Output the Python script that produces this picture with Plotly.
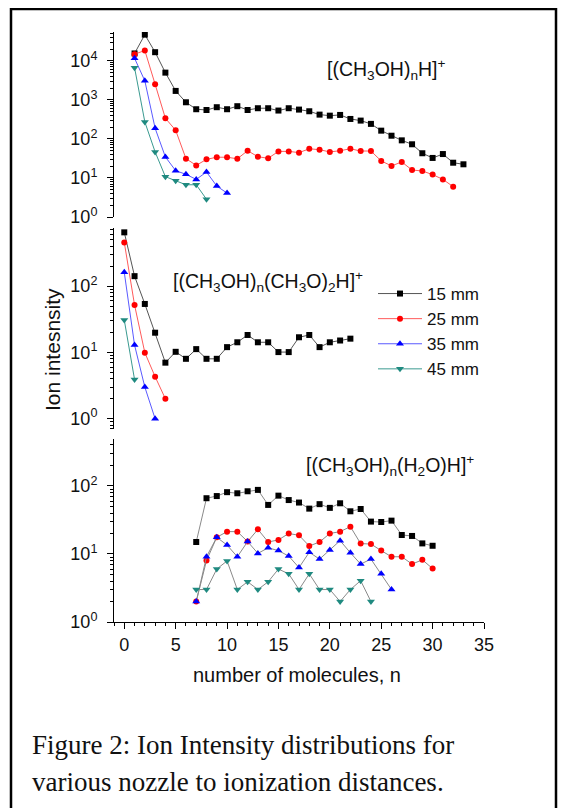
import plotly.graph_objects as go
from plotly.subplots import make_subplots

# ---------------- data ----------------
series_names = ["15 mm", "25 mm", "35 mm", "45 mm"]

# panel 1: [(CH3OH)nH]+
top_n_15 = list(range(1, 34))
top_15 = [15500, 47000, 16700, 5000, 1700, 870, 577, 551, 650, 577, 690, 551, 612, 612,
          534, 612, 565, 512, 420, 395, 412, 325, 295, 243, 163, 121, 92, 73, 43, 32.6,
          41, 24.6, 22.4]
top_n_25 = list(range(1, 33))
top_25 = [14800, 18500, 2520, 339, 167, 31.3, 21, 30, 34, 34, 31, 50, 35, 32, 48, 48,
          44.6, 56, 53, 46.5, 50, 56, 49, 49, 27.3, 20.4, 25.7, 16, 15.1, 12.2, 9.2, 6]
top_n_35 = list(range(1, 11))
top_35 = [11700, 3080, 188, 34.6, 15.4, 12.4, 9.2, 14.2, 6.2, 4.1]
top_n_45 = list(range(1, 9))
top_45 = [6700, 273, 46.5, 10.8, 8.5, 6.7, 6.7, 2.85]

# panel 2: [(CH3OH)n(CH3O)2H]+
mid_n_15 = list(range(0, 23))
mid_15 = [645, 141, 53.7, 19.8, 7.0, 10.2, 8.0, 11.2, 8.0, 8.0, 12.0, 14.2, 18.3, 14.2,
          14.2, 10.1, 10.1, 16.9, 18.3, 12.0, 14.2, 15.1, 16.1]
mid_n_25 = list(range(0, 5))
mid_25 = [455, 51.8, 9.9, 4.3, 2.0]
mid_n_35 = list(range(0, 4))
mid_35 = [161, 12.9, 3.0, 1.0]
mid_n_45 = list(range(0, 2))
mid_45 = [30.8, 3.9]

# panel 3: [(CH3OH)n(H2O)H]+
bot_n_15 = list(range(7, 31))
bot_15 = [15, 66, 71, 81, 78, 83.5, 87.5, 52.6, 72, 62, 57, 46.4, 54, 47.6, 55.6, 42.4,
          45.8, 29.9, 29.5, 30.9, 19.0, 18.4, 14.3, 13.2]
bot_n_25 = list(range(7, 31))
bot_25 = [2, 8, 17.6, 21.3, 21.3, 15.2, 23, 15, 16.1, 20, 18.8, 13.1, 15, 20, 21.3, 25.2,
          14.2, 14.0, 11.2, 9.1, 9.1, 7.1, 8.2, 6.1]
bot_n_35 = list(range(7, 27))
bot_35 = [2, 9.1, 17.6, 13.5, 9.1, 15.2, 10.2, 12.3, 11.2, 9.3, 6.3, 10.6, 8.4, 11.4,
          15.7, 10.4, 7.1, 8.4, 5.1, 3.0]
bot_n_45 = list(range(7, 25))
bot_45 = [3, 3, 6, 7.9, 3, 3.9, 3, 3.9, 6, 5.1, 3.0, 5.1, 3.0, 3.0, 2.0, 3.0, 4.05, 2.0]

x_ticks = [0, 5, 10, 15, 20, 25, 30, 35]
panel_labels = ["[(CH<sub>3</sub>OH)<sub>n</sub>H]<sup>+</sup>",
                "[(CH<sub>3</sub>OH)<sub>n</sub>(CH<sub>3</sub>O)<sub>2</sub>H]<sup>+</sup>",
                "[(CH<sub>3</sub>OH)<sub>n</sub>(H<sub>2</sub>O)H]<sup>+</sup>"]
caption_lines = ["Figure 2: Ion Intensity distributions for",
                 "various nozzle to ionization distances."]

# ---------------- styling ----------------
marker_colors = ["#000000", "#ff0000", "#0000ff", "#1f8a80"]
line_colors = ["#555555", "#ff5a5a", "#5a5aff", "#3a9a90"]
symbols = ["square", "circle", "triangle-up", "triangle-down"]
msizes = [6, 6, 7, 7]
FONT = "Arial, Liberation Sans, sans-serif"

fig = make_subplots(rows=3, cols=1, shared_xaxes=True, vertical_spacing=0.02)

panels = [
    ([top_n_15, top_n_25, top_n_35, top_n_45], [top_15, top_25, top_35, top_45], False),
    ([mid_n_15, mid_n_25, mid_n_35, mid_n_45], [mid_15, mid_25, mid_35, mid_45], False),
    ([bot_n_15, bot_n_25, bot_n_35, bot_n_45], [bot_15, bot_25, bot_35, bot_45], True),
]

for r, (xs, ys, gray) in enumerate(panels, start=1):
    for i in range(4):
        fig.add_trace(go.Scatter(
            x=xs[i], y=ys[i], mode="lines+markers", name=series_names[i],
            line=dict(color="#8a8a8a" if gray else line_colors[i], width=1),
            marker=dict(symbol=symbols[i], size=msizes[i], color=marker_colors[i],
                        line=dict(width=0)),
            showlegend=(r == 2), legendrank=i,
        ), row=r, col=1)

OFF = 8  # page body margin
W, H = 560, 800
L, R, T, B = 106, 84, 24, 186
pw, ph = W - L - R, H - T - B


def xp(px):
    return (px - OFF - L) / pw


def yp(py):
    return (H - B - (py - OFF)) / ph


def sup_labels(k):
    return ["10<sup>%d</sup>" % e for e in k]


yaxis_common = dict(type="log", showline=True, linecolor="black", linewidth=1,
                    ticks="outside", ticklen=6, tickcolor="black", showgrid=False,
                    zeroline=False, ticklabelstandoff=6,
                    tickfont=dict(family=FONT, size=18, color="#111"),
                    minor=dict(ticks="outside", ticklen=3, tickcolor="black", dtick="D1",
                               showgrid=False))

fig.update_layout(
    width=W, height=H, plot_bgcolor="white", paper_bgcolor="white",
    margin=dict(l=L, r=R, t=T, b=B),
    yaxis=dict(domain=[yp(217), yp(32)], range=[0, 4.74],
               tickvals=[1, 10, 100, 1000, 10000], ticktext=sup_labels([0, 1, 2, 3, 4]),
               **yaxis_common),
    yaxis2=dict(domain=[yp(429), yp(228)], range=[-0.155, 2.875],
                tickvals=[1, 10, 100], ticktext=sup_labels([0, 1, 2]), **yaxis_common),
    yaxis3=dict(domain=[yp(622), yp(439)], range=[0, 2.69],
                tickvals=[1, 10, 100], ticktext=sup_labels([0, 1, 2]), **yaxis_common),
    legend=dict(x=xp(373), y=yp(276), xanchor="left", yanchor="top",
                font=dict(family=FONT, size=17, color="#111"), itemwidth=44,
                bgcolor="rgba(0,0,0,0)", tracegroupgap=0),
    showlegend=True,
)

hidden_x = dict(range=[-1, 35], showline=False, showticklabels=False, ticks="",
                showgrid=False, zeroline=False)
fig.update_layout(xaxis=hidden_x, xaxis2=hidden_x)
fig.update_layout(xaxis3=dict(range=[-1, 35], showline=True, linecolor="black", linewidth=1,
                              tickvals=x_ticks, ticks="outside", ticklen=6, tickcolor="black",
                              showgrid=False, zeroline=False,
                              tickfont=dict(family=FONT, size=18, color="#111"),
                              minor=dict(ticks="outside", ticklen=3, tickcolor="black",
                                         dtick=1, showgrid=False)))

ann = []
label_pos = [(325, 70), (171, 281), (304, 466)]
for txt, (px, py) in zip(panel_labels, label_pos):
    ann.append(dict(text=txt, x=xp(px), y=yp(py), xref="paper", yref="paper",
                    xanchor="left", yanchor="middle", showarrow=False,
                    font=dict(family=FONT, size=19.5, color="#111")))
ann.append(dict(text="Ion intesnsity", x=xp(53), y=yp(350), xref="paper", yref="paper",
                textangle=-90, showarrow=False, xanchor="center", yanchor="middle",
                font=dict(family=FONT, size=21, color="#111")))
ann.append(dict(text="number of molecules, n", x=xp(297), y=yp(675), xref="paper",
                yref="paper", showarrow=False, xanchor="center", yanchor="middle",
                font=dict(family=FONT, size=20, color="#111")))
for k, (line, py) in enumerate(zip(caption_lines, [745, 782])):
    ann.append(dict(text=line, x=xp(30), y=yp(py), xref="paper", yref="paper",
                    xanchor="left", yanchor="middle", showarrow=False,
                    font=dict(family="Liberation Serif, Times New Roman, serif", size=27,
                              color="#111")))
fig.update_layout(annotations=ann)

fig.add_shape(type="rect", xref="paper", yref="paper",
              x0=xp(11), x1=xp(556), y0=yp(830), y1=yp(9),
              line=dict(color="black", width=2.5), fillcolor="rgba(0,0,0,0)", layer="above")

fig.write_html("out.html")
